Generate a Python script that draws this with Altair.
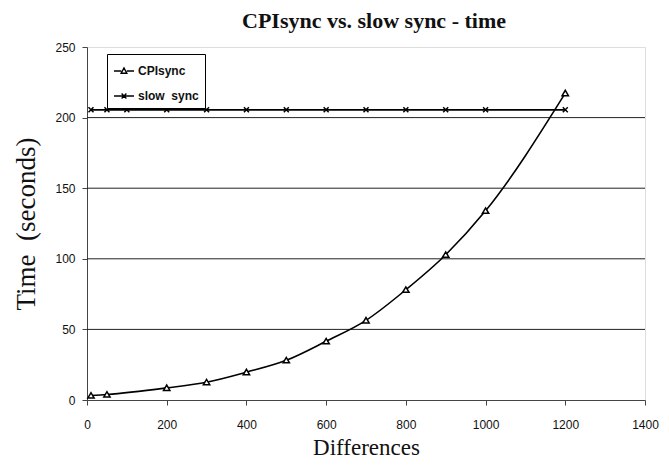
import altair as alt
import pandas as pd

# Data
cpi_x = [10, 50, 200, 300, 400, 500, 600, 700, 800, 900, 1000, 1200]
cpi_y = [3.2, 3.9, 8.6, 12.6, 19.7, 28.1, 41.6, 56.4, 78.1, 102.9, 134.0, 217.3]
slow_x = [10, 50, 100, 200, 300, 400, 500, 600, 700, 800, 900, 1000, 1200]
slow_y = [205.5] * len(slow_x)
series_names = ["CPIsync", "slow\u00a0 sync"]
x_ticks = [0, 200, 400, 600, 800, 1000, 1200, 1400]
y_ticks = [0, 50, 100, 150, 200, 250]
grid_vals = [50, 100, 150, 200]

cpi = pd.DataFrame({"x": cpi_x, "y": cpi_y, "series": series_names[0]})
slow = pd.DataFrame({"x": slow_x, "y": slow_y, "series": series_names[1]})
df = pd.concat([cpi, slow], ignore_index=True)
grid_df = pd.DataFrame({"g": grid_vals})

xs = alt.Scale(domain=[0, 1400], nice=False, zero=False)
ys = alt.Scale(domain=[0, 250], nice=False)

x_enc = alt.X("x:Q", scale=xs, title="Differences",
              axis=alt.Axis(values=x_ticks, grid=False, tickSize=5, labelPadding=14, format="d",
                            labelFont="Liberation Sans", labelFontSize=12, labelColor="#111",
                            titleFont="Liberation Serif", titleFontSize=23, titleFontWeight="normal",
                            titleColor="#111", titlePadding=6, domainColor="#444", tickColor="#444",
                            labelFlush=False))
y_enc = alt.Y("y:Q", scale=ys, title="Time\u00a0 (seconds)",
              axis=alt.Axis(values=y_ticks, grid=False, tickSize=5, labelPadding=7,
                            labelFont="Liberation Sans", labelFontSize=12, labelColor="#111",
                            titleFont="Liberation Serif", titleFontSize=27, titleFontWeight="normal",
                            titleColor="#111", titlePadding=14, domainColor="#444", tickColor="#444"))

grid = alt.Chart(grid_df).mark_rule(color="#222", strokeWidth=1).encode(
    y=alt.Y("g:Q", scale=ys))

cpi_line = alt.Chart(cpi).mark_line(color="black", strokeWidth=1.6, interpolate="monotone").encode(
    x=x_enc, y=y_enc)
slow_line = alt.Chart(slow).mark_line(color="black", strokeWidth=1.6).encode(x=x_enc, y=y_enc)

tri_path = "M-1,0.8L0,-0.9L1,0.8Z"
x_path = "M-1,-1L1,1M-1,1L1,-1"

cpi_pts = alt.Chart(cpi).mark_point(shape=tri_path, size=40, filled=True, fill="white",
                                    stroke="black", strokeWidth=1.5, opacity=1).encode(x=x_enc, y=y_enc)
slow_pts = alt.Chart(slow).mark_point(shape=x_path, size=25, filled=False,
                                      stroke="black", strokeWidth=1.5, opacity=1).encode(x=x_enc, y=y_enc)

leg_tri = "M-1,0L-0.28,0M0.28,0L1,0M-0.28,0.22L0,-0.3L0.28,0.22Z"
leg_x = "M-1,0L1,0M-0.24,-0.24L0.24,0.24M-0.24,0.24L0.24,-0.24"

legend_layer = alt.Chart(df).mark_point(filled=False, color="black", strokeWidth=1.4, opacity=1).encode(
    x=x_enc, y=y_enc,
    shape=alt.Shape("series:N",
                    scale=alt.Scale(domain=series_names, range=[leg_tri, leg_x]),
                    legend=alt.Legend(title=None, orient="none", legendX=20, legendY=7,
                                      strokeColor="black", fillColor="white", padding=6,
                                      symbolSize=400, symbolStrokeWidth=1.4,
                                      symbolStrokeColor="black", symbolFillColor="white",
                                      labelFont="Liberation Sans", labelFontSize=12,
                                      labelFontWeight="bold", labelColor="#111",
                                      labelOffset=3, rowPadding=8, cornerRadius=0))
).transform_filter("false")

chart = alt.layer(grid, slow_line, cpi_line, slow_pts, cpi_pts, legend_layer).properties(
    width=558, height=353,
    title=alt.TitleParams("CPIsync vs. slow sync - time", font="Liberation Serif", fontSize=22,
                          fontWeight="bold", color="#111", offset=8, anchor="middle", dx=8),
    autosize=alt.AutoSizeParams(type="none"),
    padding={"left": 79, "top": 39, "right": 16, "bottom": 62},
).configure_view(stroke="#999", strokeWidth=1.5).configure(background="white")

chart.save("out.html", embed_options={"renderer": "svg", "actions": False})
